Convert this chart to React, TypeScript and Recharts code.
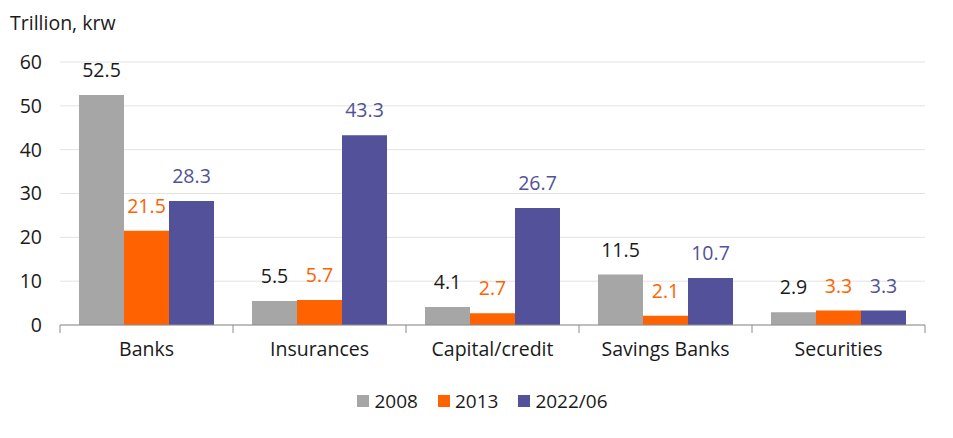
import React from "react";
import {
  BarChart,
  Bar,
  XAxis,
  YAxis,
  CartesianGrid,
  Legend,
  LabelList,
} from "recharts";

const categories = ["Banks", "Insurances", "Capital/credit", "Savings Banks", "Securities"];
const values2008 = [52.5, 5.5, 4.1, 11.5, 2.9];
const values2013 = [21.5, 5.7, 2.7, 2.1, 3.3];
const values2022 = [28.3, 43.3, 26.7, 10.7, 3.3];
const yTicks = [0, 10, 20, 30, 40, 50, 60];

const series = [
  { key: "y2008", name: "2008", color: "#a6a6a6", labelColor: "#1a1a1a" },
  { key: "y2013", name: "2013", color: "#ff6200", labelColor: "#ff6200" },
  { key: "y2022", name: "2022/06", color: "#525199", labelColor: "#525199" },
];

const data = categories.map((name, i) => ({
  name,
  y2008: values2008[i],
  y2013: values2013[i],
  y2022: values2022[i],
}));

const FONT = "'Open Sans', sans-serif";
const FS = 19.5;
const AXIS = "#8c8c8c";

// category tick with separator lines at the band edges
function CategoryTick(props: any) {
  const { x, y, payload, index } = props;
  const half = payload.offset || 0;
  const last = index === categories.length - 1;
  return (
    <g>
      <line x1={x - half} x2={x - half} y1={y - 17} y2={y - 9} stroke={AXIS} />
      {last && <line x1={x + half} x2={x + half} y1={y - 17} y2={y - 9} stroke={AXIS} />}
      <text x={x} y={y} dy="0.71em" textAnchor="middle" fontSize={FS} fill="#1a1a1a" fontFamily={FONT}>
        {payload.value}
      </text>
    </g>
  );
}

function LegendContent() {
  return (
    <div style={{ display: "flex", justifyContent: "center", paddingLeft: 40, fontFamily: FONT, fontSize: 19, color: "#1a1a1a" }}>
      {series.map((s, i) => (
        <div key={s.key} style={{ display: "flex", alignItems: "center", marginLeft: i === 0 ? 0 : 20 }}>
          <span style={{ width: 12, height: 12, background: s.color, display: "inline-block", marginRight: 5 }} />
          <span>{s.name}</span>
        </div>
      ))}
    </div>
  );
}

export default function App() {
  return (
    <div style={{ position: "absolute", left: 0, top: 0, width: 953, height: 438, background: "#fff", fontFamily: FONT }}>
      <div style={{ position: "absolute", left: 10, top: 10, fontSize: FS, color: "#1a1a1a", lineHeight: "26px" }}>
        Trillion, krw
      </div>
      <BarChart
        width={953}
        height={438}
        data={data}
        margin={{ top: 62, right: 28, left: 0, bottom: 10 }}
        barCategoryGap={19}
        barGap={0}
      >
        <CartesianGrid horizontal vertical={false} stroke="#e3e3e3" />
        <XAxis
          dataKey="name"
          tick={<CategoryTick />}
          tickLine={false}
          axisLine={{ stroke: AXIS }}
          tickMargin={11}
          height={63}
          interval={0}
        />
        <YAxis
          domain={[0, 60]}
          ticks={yTicks}
          width={60}
          tick={{ fontSize: FS, fill: "#1a1a1a", fontFamily: FONT }}
          tickLine={false}
          axisLine={false}
          tickMargin={12}
        />
        <Legend verticalAlign="bottom" height={40} content={<LegendContent />} />
        {series.map((s) => (
          <Bar key={s.key} dataKey={s.key} name={s.name} fill={s.color} isAnimationActive={false}>
            <LabelList
              dataKey={s.key}
              position="top"
              offset={18}
              fill={s.labelColor}
              style={{ fontSize: FS, fontFamily: FONT }}
              formatter={(v: number) => v.toFixed(1)}
            />
          </Bar>
        ))}
      </BarChart>
    </div>
  );
}
